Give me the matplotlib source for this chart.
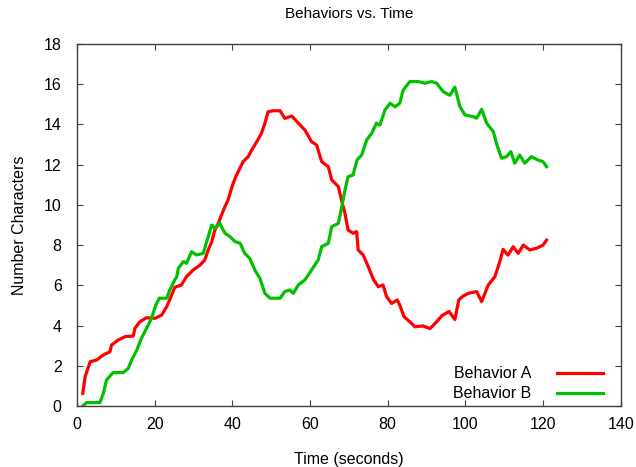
import matplotlib
matplotlib.use("Agg")
import matplotlib.pyplot as plt

plt.rcParams['font.family'] = ['Liberation Sans', 'DejaVu Sans']

# Behavior A (red): time in seconds, number of characters
time_a = [1.5, 2.1, 3.4, 5.1, 6.8, 8.5, 8.9, 10.6, 12.4, 14.5, 14.9, 16.2, 17.9,
          20.1, 21.8, 23.1, 23.9, 25.2, 26.9, 28.2, 29.9, 31.7, 32.9, 33.8, 34.7,
          35.5, 36.4, 37.2, 38.1, 38.9, 39.8, 40.7, 41.5, 42.8, 44.1, 45.0, 46.3,
          47.5, 48.4, 49.2, 50.5, 52.3, 53.5, 55.3, 57.0, 58.7, 60.4, 61.7, 63.0,
          64.7, 65.6, 67.3, 68.1, 69.0, 69.8, 71.1, 72.0, 72.4, 73.7, 75.0, 76.3,
          77.6, 78.8, 79.7, 81.0, 82.5, 83.1, 84.2, 85.7, 87.0, 89.1, 90.9, 92.6,
          94.0, 95.8, 97.3, 98.3, 99.2, 100.7, 102.9, 104.2, 105.9, 107.6, 108.9,
          109.7, 111.0, 112.3, 113.6, 114.9, 116.6, 118.3, 120.0, 120.9]
behavior_a = [0.63, 1.46, 2.2, 2.29, 2.54, 2.7, 3.03, 3.28, 3.45, 3.48, 3.86, 4.19, 4.39,
              4.36, 4.52, 4.94, 5.3, 5.9, 6.02, 6.43, 6.76, 7.01, 7.26, 7.76, 8.17,
              8.75, 9.08, 9.5, 9.91, 10.24, 10.83, 11.32, 11.65, 12.15, 12.4, 12.73, 13.14,
              13.56, 14.06, 14.63, 14.68, 14.68, 14.3, 14.42, 14.06, 13.72, 13.14, 12.98, 12.15,
              11.9, 11.24, 10.91, 10.24, 9.58, 8.75, 8.59, 8.67, 7.76, 7.51, 6.93, 6.3,
              5.93, 6.02, 5.44, 5.1, 5.27, 5.02, 4.44, 4.19, 3.94, 3.98, 3.85, 4.19,
              4.5, 4.7, 4.3, 5.27, 5.44, 5.6, 5.69, 5.19, 6.02, 6.43, 7.2,
              7.79, 7.5, 7.92, 7.59, 8.0, 7.76, 7.84, 8.0, 8.25]

# Behavior B (green)
time_b = [1.5, 2.5, 5.9, 6.8, 7.6, 9.3, 11.9, 13.2, 14.1, 15.4, 16.6, 17.9, 19.2,
          20.3, 21.2, 23.1, 23.9, 25.2, 25.7, 26.1, 27.4, 28.2, 29.5, 30.8, 32.5,
          33.8, 34.7, 35.5, 36.8, 38.1, 39.4, 40.7, 42.0, 43.2, 44.5, 45.8, 47.1,
          48.4, 49.7, 52.3, 53.5, 54.8, 55.7, 57.0, 58.7, 60.4, 62.1, 63.0, 64.7,
          65.6, 67.3, 68.1, 69.0, 69.8, 71.1, 72.1, 73.3, 74.6, 75.9, 77.1, 78.0,
          79.3, 80.6, 81.9, 83.1, 84.0, 85.7, 87.9, 89.6, 91.3, 92.6, 94.3, 96.0,
          97.3, 98.6, 99.9, 102.0, 102.9, 104.2, 105.5, 107.2, 108.0, 109.3, 110.6,
          111.7, 112.7, 114.0, 115.3, 117.0, 118.7, 120.0, 120.9]
behavior_b = [0.0, 0.17, 0.17, 0.63, 1.29, 1.66, 1.66, 1.87, 2.29, 2.78, 3.37, 3.86, 4.36,
              5.02, 5.36, 5.36, 5.77, 6.27, 6.43, 6.85, 7.18, 7.10, 7.67, 7.51, 7.59,
              8.42, 9.0, 8.83, 9.08, 8.59, 8.42, 8.17, 8.09, 7.59, 7.34, 6.76, 6.35,
              5.6, 5.36, 5.36, 5.69, 5.77, 5.60, 6.02, 6.27, 6.76, 7.26, 7.92, 8.09,
              8.92, 9.08, 9.83, 10.74, 11.40, 11.49, 12.23, 12.48, 13.23, 13.56, 14.06, 13.97,
              14.72, 15.05, 14.88, 15.05, 15.71, 16.13, 16.13, 16.05, 16.13, 16.05, 15.63, 15.45,
              15.85, 14.88, 14.47, 14.39, 14.31, 14.75, 14.06, 13.64, 13.06, 12.32, 12.40,
              12.65, 12.07, 12.48, 12.07, 12.40, 12.23, 12.15, 11.90]

x_ticks = [0, 20, 40, 60, 80, 100, 120, 140]
y_ticks = [0, 2, 4, 6, 8, 10, 12, 14, 16, 18]

fig = plt.figure(figsize=(6.36, 4.67), dpi=100)
ax = fig.add_axes([0.121, 0.1306, 0.855, 0.7752])

ax.plot(time_a, behavior_a, color='#ff0000', lw=2.3, label='Behavior A')
ax.plot(time_b, behavior_b, color='#00c000', lw=2.3, label='Behavior B')

ax.set_xlim(0, 140)
ax.set_ylim(0, 18)
ax.set_xticks(x_ticks)
ax.set_yticks(y_ticks)
ax.tick_params(direction='in', length=4, width=0.8, color='#404040',
               top=True, right=True, labelsize=11.5)
ax.tick_params(axis='x', pad=8)
ax.tick_params(axis='y', pad=11)
for s in ax.spines.values():
    s.set_color('#404040')
    s.set_linewidth(1.0)

ax.set_title('Behaviors vs. Time', fontsize=11, pad=19)
ax.set_xlabel('Time (seconds)', fontsize=11.5, labelpad=14)
ax.set_ylabel('Number Characters', fontsize=11.5, labelpad=12)

ax.legend(loc='lower right', bbox_to_anchor=(0.976, 0.0), frameon=False,
          markerfirst=False, fontsize=11.5, handlelength=2.9, handletextpad=1.6,
          labelspacing=0.3, borderaxespad=0.0, borderpad=0.3)

fig.savefig('out.png', dpi=100)
